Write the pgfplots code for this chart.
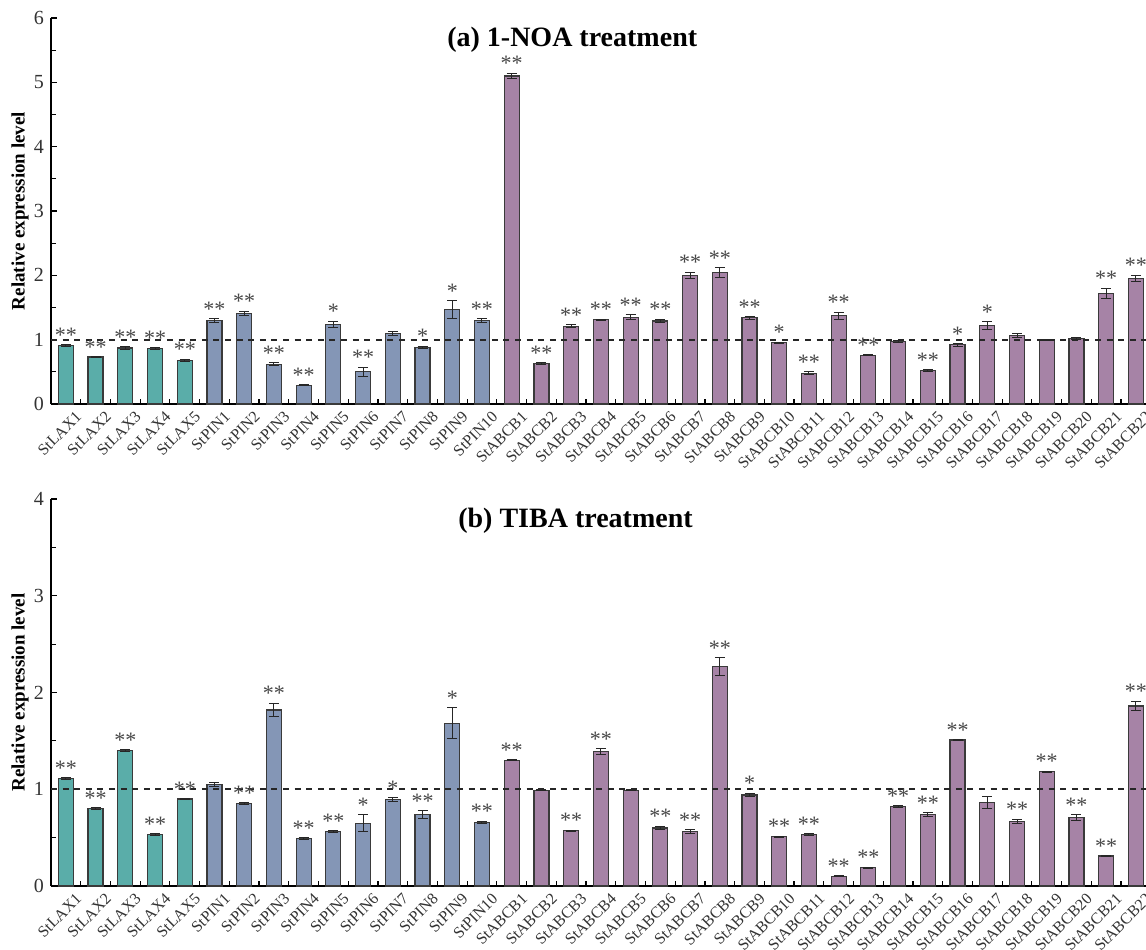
\documentclass[border=0pt]{standalone}
\usepackage{pgfplots}
\pgfplotsset{compat=1.18}
\usepackage{pgfplotstable}
\usepackage{fontspec}
\setmainfont{Liberation Serif}
\definecolor{cteal}{HTML}{5AADA9}
\definecolor{cblue}{HTML}{8496B6}
\definecolor{cpurp}{HTML}{A683A6}
\definecolor{cedge}{HTML}{3A3A3A}

\pgfplotstableread{
x y err sig
0 0.91 0.01 **
1 0.73 0.005 **
2 0.87 0.02 **
3 0.86 0.015 **
4 0.68 0.015 **
5 1.30 0.03 **
6 1.41 0.03 **
7 0.62 0.02 **
8 0.29 0.01 **
9 1.24 0.05 *
10 0.50 0.07 **
11 1.10 0.03 {}
12 0.88 0.02 *
13 1.47 0.14 *
14 1.30 0.03 **
15 5.10 0.04 **
16 0.63 0.01 **
17 1.21 0.02 **
18 1.31 0.01 **
19 1.35 0.04 **
20 1.29 0.03 **
21 2.00 0.05 **
22 2.04 0.08 **
23 1.34 0.02 **
24 0.95 0.01 *
25 0.48 0.02 **
26 1.37 0.06 **
27 0.76 0.01 **
28 0.97 0.02 {}
29 0.52 0.01 **
30 0.92 0.02 *
31 1.22 0.06 *
32 1.07 0.03 {}
33 1.00 0.01 {}
34 1.02 0.02 {}
35 1.72 0.08 **
36 1.95 0.05 **
}\tabA

\pgfplotstableread{
x y err sig
0 1.11 0.01 **
1 0.80 0.01 **
2 1.40 0.01 **
3 0.53 0.01 **
4 0.90 0.005 **
5 1.05 0.02 {}
6 0.85 0.01 **
7 1.82 0.07 **
8 0.49 0.01 **
9 0.56 0.01 **
10 0.65 0.09 *
11 0.89 0.02 *
12 0.74 0.04 **
13 1.68 0.16 *
14 0.66 0.01 **
15 1.30 0.005 **
16 0.99 0.005 {}
17 0.57 0.005 **
18 1.39 0.03 **
19 0.99 0.005 {}
20 0.60 0.02 **
21 0.56 0.02 **
22 2.27 0.09 **
23 0.94 0.02 *
24 0.51 0.005 **
25 0.53 0.01 **
26 0.10 0.005 **
27 0.19 0.005 **
28 0.82 0.01 **
29 0.74 0.02 **
30 1.51 0.005 **
31 0.86 0.06 {}
32 0.67 0.02 **
33 1.18 0.005 **
34 0.71 0.03 **
35 0.31 0.005 **
36 1.86 0.05 **
}\tabB

\pgfplotsset{
 panel/.style={
  scale only axis, width=547.5pt,
  xmin=-0.5, xmax=36.34, ymin=0,
  axis x line*=bottom, axis y line*=left,
  axis line style={-, line width=0.75pt, black},
  xtick={0,...,36},
  xticklabels={StLAX1,StLAX2,StLAX3,StLAX4,StLAX5,StPIN1,StPIN2,StPIN3,StPIN4,StPIN5,StPIN6,StPIN7,StPIN8,StPIN9,StPIN10,StABCB1,StABCB2,StABCB3,StABCB4,StABCB5,StABCB6,StABCB7,StABCB8,StABCB9,StABCB10,StABCB11,StABCB12,StABCB13,StABCB14,StABCB15,StABCB16,StABCB17,StABCB18,StABCB19,StABCB20,StABCB21,StABCB22},
  minor x tick num=1,
  major x tick style={draw=none},
  tick align=inside,
  major tick length=2.8pt, minor tick length=2.6pt,
  ytick distance=1, minor y tick num=1,
  tick style={line width=0.6pt, black},
  /pgf/number format/assume math mode=true,
  tick label style={font=\fontsize{10}{11}\selectfont, text=black!80},
  x tick label style={xshift=4.5pt, yshift=-2.3pt, rotate=45, anchor=north east, font=\fontsize{8}{9}\selectfont, inner sep=0.5pt},
  ylabel={Relative expression level},
  every axis y label/.style={at={(axis description cs:-0.0283,0.5)}, rotate=90, anchor=center, font=\bfseries\fontsize{9.5}{11}\selectfont},
  clip=false,
 },
 mybars/.style={ybar, bar width=7.5pt, bar shift=0pt, draw=cedge, line width=0.6pt, fill=#1,
   error bars/y dir=both, error bars/y explicit,
   error bars/error bar style={line width=0.5pt, black!85},
   error bars/error mark options={rotate=90, mark size=2.5pt, line width=0.5pt, black!85}},
 oneline/.style={black!85, line width=1pt, dash pattern=on 3pt off 2.8pt},
 stars/.style={draw=none, mark=none, nodes near coords, point meta=explicit symbolic,
   nodes near coords style={font=\fontsize{11}{11}\selectfont, text=black!72, anchor=south, inner sep=0pt, yshift=1pt}},
}

\begin{document}
\begin{tikzpicture}
\begin{axis}[panel, at={(0,241pt)}, anchor=south west, height=193pt, ymax=6,
  every axis title/.style={at={(axis description cs:0.476,1)}, anchor=center, yshift=-11pt, font=\bfseries\fontsize{14}{16}\selectfont},
  title={(a) 1-NOA treatment}]
\addplot[mybars=cteal, restrict x to domain=-0.5:4.5] table[x=x,y=y,y error=err]{\tabA};
\addplot[mybars=cblue, restrict x to domain=4.5:14.5] table[x=x,y=y,y error=err]{\tabA};
\addplot[mybars=cpurp, restrict x to domain=14.5:36.5] table[x=x,y=y,y error=err]{\tabA};
\addplot[oneline] coordinates {(-0.5,1) (36.34,1)};
\addplot[stars] table[x=x, y expr=\thisrow{y}+\thisrow{err}, meta=sig]{\tabA};
\end{axis}
\begin{axis}[panel, at={(0,0)}, anchor=south west, height=193.5pt, ymax=4,
  every axis title/.style={at={(axis description cs:0.479,1)}, anchor=center, yshift=-11pt, font=\bfseries\fontsize{14}{16}\selectfont},
  title={(b) TIBA treatment}]
\addplot[mybars=cteal, restrict x to domain=-0.5:4.5] table[x=x,y=y,y error=err]{\tabB};
\addplot[mybars=cblue, restrict x to domain=4.5:14.5] table[x=x,y=y,y error=err]{\tabB};
\addplot[mybars=cpurp, restrict x to domain=14.5:36.5] table[x=x,y=y,y error=err]{\tabB};
\addplot[oneline] coordinates {(-0.5,1) (36.34,1)};
\addplot[stars] table[x=x, y expr=\thisrow{y}+\thisrow{err}, meta=sig]{\tabB};
\end{axis}
\pgfresetboundingbox
\path[use as bounding box] (-25.5pt,-31.5pt) rectangle (547.5pt,443pt);
\end{tikzpicture}
\end{document}
